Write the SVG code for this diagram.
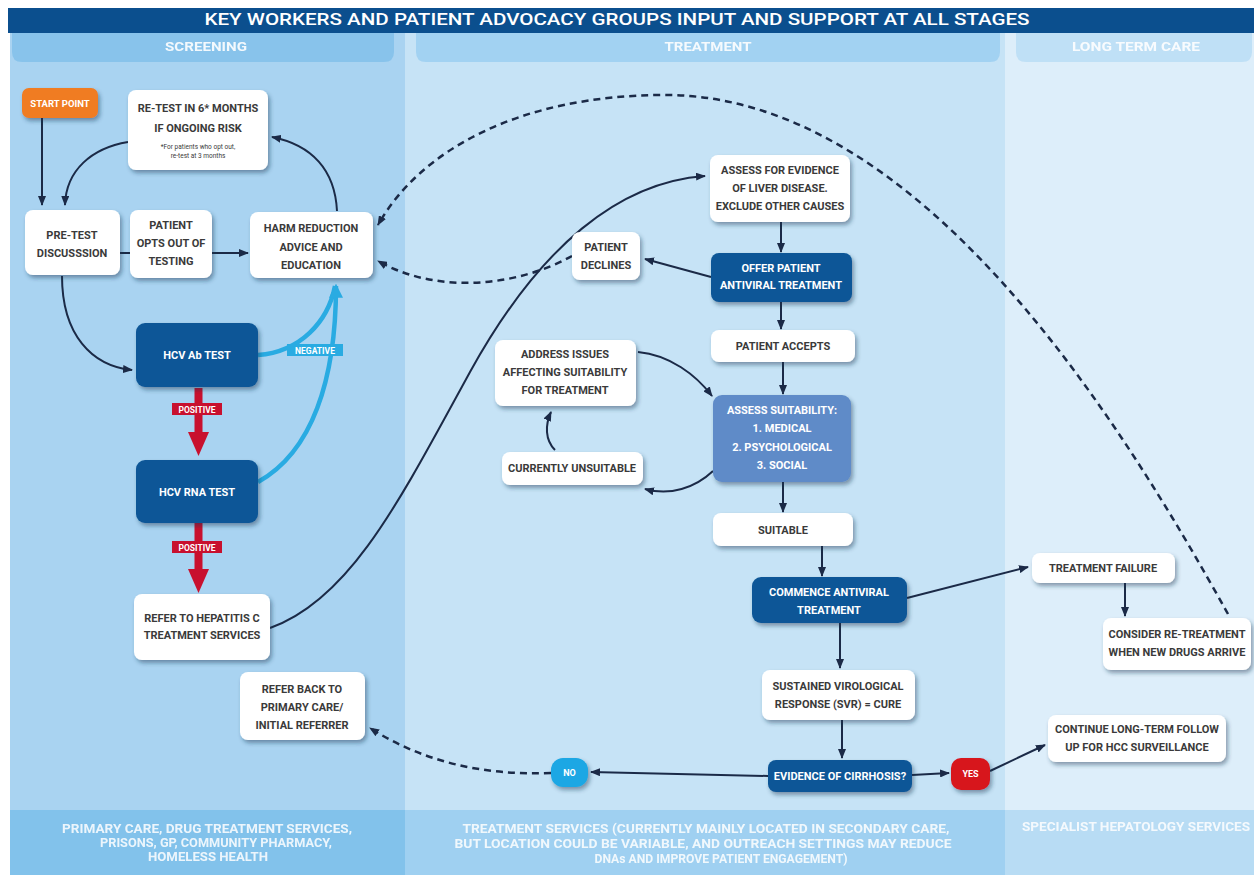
<svg xmlns="http://www.w3.org/2000/svg" width="1254" height="875" viewBox="0 0 1254 875">
<defs>
<style>
.t{font-family:Roboto,"DejaVu Sans",sans-serif;font-weight:700;font-size:11px;text-anchor:middle;fill:#3a3a3a}
.w{fill:#ffffff}
.s{font-size:6.5px;font-weight:400}
.hd{font-size:13px;fill:#ffffff;opacity:0.9}
.bt{font-size:12.5px;fill:#ffffff;opacity:0.85}
.box{fill:#ffffff;filter:url(#sh)}
.dk{fill:#0b5697;filter:url(#sh)}
.ln{fill:none;stroke:#1b2a47;stroke-width:2}
.ds{fill:none;stroke:#1b2a47;stroke-width:2.5;stroke-dasharray:7,5}
.cy{fill:none;stroke:#29abe2;stroke-width:4.5}
</style>
<filter id="sh" x="-20%" y="-20%" width="150%" height="170%">
<feDropShadow dx="2" dy="3" stdDeviation="2" flood-color="#14304d" flood-opacity="0.45"/>
</filter>
<marker id="ar" viewBox="0 0 10 8" refX="9" refY="4" markerWidth="10" markerHeight="8" markerUnits="userSpaceOnUse" orient="auto">
<path d="M0,0 L10,4 L0,8 z" fill="#1b2a47"/>
</marker>
<marker id="arc" viewBox="0 0 12 12" refX="10" refY="6" markerWidth="14" markerHeight="14" markerUnits="userSpaceOnUse" orient="auto">
<path d="M0,0 L12,6 L0,12 z" fill="#29abe2"/>
</marker>
</defs>

<!-- background -->
<rect x="0" y="0" width="1254" height="875" fill="#ffffff"/>
<rect x="10" y="8" width="395" height="867" fill="#a9d3f1"/>
<rect x="405" y="8" width="600" height="867" fill="#c6e3f6"/>
<rect x="1005" y="8" width="249" height="867" fill="#ddeefa"/>
<rect x="8" y="8" width="1246" height="25" fill="#0b4f8e"/>
<path d="M12,33 H394 V52 Q394,62 384,62 H22 Q12,62 12,52 Z" fill="#88c3eb"/>
<path d="M416,33 H1000 V52 Q1000,62 990,62 H426 Q416,62 416,52 Z" fill="#a2d2f2"/>
<path d="M1016,33 H1252 V52 Q1252,62 1242,62 H1026 Q1016,62 1016,52 Z" fill="#bfe0f6"/>
<rect x="10" y="810" width="395" height="65" fill="#82c2eb"/>
<rect x="405" y="810" width="600" height="65" fill="#9fd0f1"/>
<rect x="1005" y="810" width="249" height="65" fill="#b8dcf4"/>

<text class="t w" x="617" y="25" style="font-size:17px;font-weight:500" textLength="825" lengthAdjust="spacingAndGlyphs">KEY WORKERS AND PATIENT ADVOCACY GROUPS INPUT AND SUPPORT AT ALL STAGES</text>
<text class="t hd" x="206" y="51" textLength="82" lengthAdjust="spacingAndGlyphs">SCREENING</text>
<text class="t hd" x="708" y="51" textLength="87" lengthAdjust="spacingAndGlyphs">TREATMENT</text>
<text class="t hd" x="1136" y="51" textLength="128" lengthAdjust="spacingAndGlyphs">LONG TERM CARE</text>

<text class="t bt" x="207" y="833" textLength="290" lengthAdjust="spacingAndGlyphs">PRIMARY CARE, DRUG TREATMENT SERVICES,</text>
<text class="t bt" x="216" y="847" textLength="232" lengthAdjust="spacingAndGlyphs">PRISONS, GP, COMMUNITY PHARMACY,</text>
<text class="t bt" x="208" y="861" textLength="120" lengthAdjust="spacingAndGlyphs">HOMELESS HEALTH</text>
<text class="t bt" x="706" y="833" textLength="487" lengthAdjust="spacingAndGlyphs">TREATMENT SERVICES (CURRENTLY MAINLY LOCATED IN SECONDARY CARE,</text>
<text class="t bt" x="703" y="848" textLength="497" lengthAdjust="spacingAndGlyphs">BUT LOCATION COULD BE VARIABLE, AND OUTREACH SETTINGS MAY REDUCE</text>
<text class="t bt" x="721" y="863" textLength="253" lengthAdjust="spacingAndGlyphs">DNAs AND IMPROVE PATIENT ENGAGEMENT)</text>
<text class="t bt" x="1136" y="831" textLength="228" lengthAdjust="spacingAndGlyphs">SPECIALIST HEPATOLOGY SERVICES</text>

<!-- connectors -->
<g id="connectors">
<line class="ln" x1="42" y1="118" x2="42" y2="205" marker-end="url(#ar)"/>
<path class="ln" d="M128,142 C92,148 66,170 65,205" marker-end="url(#ar)"/>
<path class="ln" d="M337,211 C335,170 312,145 272,137" marker-end="url(#ar)"/>
<line class="ln" x1="120" y1="253" x2="130" y2="253"/>
<line class="ln" x1="212" y1="253" x2="248" y2="253" marker-end="url(#ar)"/>
<path class="ln" d="M62,276 C62,335 92,366 132,370" marker-end="url(#ar)"/>
<path class="cy" d="M258,355 C300,352 328,322 335,286"/>
<path class="cy" d="M258,482 C312,452 336,380 336,286" marker-end="url(#arc)"/>
<rect x="194.5" y="388" width="8" height="46" fill="#c8102e"/>
<path d="M188,432 H209 L198.5,456 Z" fill="#c8102e"/>
<rect x="194.5" y="523" width="8" height="48" fill="#c8102e"/>
<path d="M188,569 H209 L198.5,593 Z" fill="#c8102e"/>
<path class="ln" d="M270,628 C350,600 400,500 470,372 C540,245 620,182 705,176" marker-end="url(#ar)"/>
<path class="ds" d="M1228,614 C1120,420 920,95 665,95 C520,95 420,150 378,225" marker-end="url(#ar)"/>
<path class="ds" d="M572,256 C520,285 440,296 378,261" marker-end="url(#ar)"/>
<line class="ln" x1="711" y1="277" x2="645" y2="259" marker-end="url(#ar)"/>
<line class="ln" x1="781" y1="222" x2="781" y2="252" marker-end="url(#ar)"/>
<line class="ln" x1="781" y1="302" x2="781" y2="329" marker-end="url(#ar)"/>
<line class="ln" x1="783" y1="362" x2="783" y2="394" marker-end="url(#ar)"/>
<path class="ln" d="M638,352 C670,355 696,375 712,396" marker-end="url(#ar)"/>
<path class="ln" d="M713,471 C695,488 670,496 645,489" marker-end="url(#ar)"/>
<path class="ln" d="M555,450 C545,440 545,425 551,412" marker-end="url(#ar)"/>
<line class="ln" x1="783" y1="482" x2="783" y2="512" marker-end="url(#ar)"/>
<line class="ln" x1="822" y1="546" x2="822" y2="576" marker-end="url(#ar)"/>
<line class="ln" x1="907" y1="598" x2="1028" y2="567" marker-end="url(#ar)"/>
<line class="ln" x1="1125" y1="583" x2="1125" y2="616" marker-end="url(#ar)"/>
<line class="ln" x1="840" y1="623" x2="840" y2="668" marker-end="url(#ar)"/>
<line class="ln" x1="842" y1="720" x2="842" y2="758" marker-end="url(#ar)"/>
<line class="ln" x1="768" y1="776" x2="591" y2="772" marker-end="url(#ar)"/>
<path class="ds" d="M551,773 C480,776 420,760 370,728" marker-end="url(#ar)"/>
<line class="ln" x1="912" y1="775" x2="949" y2="773" marker-end="url(#ar)"/>
<line class="ln" x1="990" y1="771" x2="1045" y2="745" marker-end="url(#ar)"/>
</g>

<!-- nodes -->
<g id="start"><rect x="22" y="88" width="76" height="30" rx="7" fill="#f07c20" filter="url(#sh)"/><text class="t w" x="60" y="107" style="font-size:9.5px">START POINT</text></g>
<g id="retest"><rect class="box" x="128" y="90" width="140" height="80" rx="8"/>
<text class="t" x="198" y="112">RE-TEST IN 6* MONTHS</text>
<text class="t" x="198" y="132">IF ONGOING RISK</text>
<text class="t s" x="198" y="149">*For patients who opt out,</text>
<text class="t s" x="198" y="158">re-test at 3 months</text></g>
<g id="pretest"><rect class="box" x="25" y="210" width="95" height="65" rx="8"/>
<text class="t" x="72" y="239">PRE-TEST</text><text class="t" x="72" y="257">DISCUSSSION</text></g>
<g id="optsout"><rect class="box" x="130" y="210" width="82" height="68" rx="8"/>
<text class="t" x="171" y="229">PATIENT</text><text class="t" x="171" y="247">OPTS OUT OF</text><text class="t" x="171" y="265">TESTING</text></g>
<g id="harm"><rect class="box" x="250" y="212" width="123" height="66" rx="8"/>
<text class="t" x="311" y="232">HARM REDUCTION</text><text class="t" x="311" y="251">ADVICE AND</text><text class="t" x="311" y="269">EDUCATION</text></g>
<g id="abtest"><rect class="dk" x="136" y="323" width="122" height="64" rx="9"/><text class="t w" x="197" y="359">HCV Ab TEST</text></g>
<g id="rnatest"><rect class="dk" x="136" y="460" width="122" height="63" rx="9"/><text class="t w" x="197" y="496">HCV RNA TEST</text></g>
<g id="pos1"><rect x="172" y="403" width="50" height="12" fill="#c8102e"/><text class="t w" x="197" y="412.5" style="font-size:8.5px">POSITIVE</text></g>
<g id="pos2"><rect x="172" y="541" width="50" height="12" fill="#c8102e"/><text class="t w" x="197" y="550.5" style="font-size:8.5px">POSITIVE</text></g>
<g id="neg"><rect x="287" y="344" width="56" height="12" fill="#29abe2"/><text class="t w" x="315" y="353.5" style="font-size:8.5px">NEGATIVE</text></g>
<g id="refer"><rect class="box" x="134" y="594" width="136" height="66" rx="8"/>
<text class="t" x="202" y="622">REFER TO HEPATITIS C</text><text class="t" x="202" y="639">TREATMENT SERVICES</text></g>
<g id="referback"><rect class="box" x="240" y="672" width="125" height="68" rx="8"/>
<text class="t" x="302" y="693">REFER BACK TO</text><text class="t" x="302" y="711">PRIMARY CARE/</text><text class="t" x="302" y="729">INITIAL REFERRER</text></g>

<g id="assessliver"><rect class="box" x="710" y="155" width="140" height="67" rx="8"/>
<text class="t" x="780" y="174">ASSESS FOR EVIDENCE</text><text class="t" x="780" y="192">OF LIVER DISEASE.</text><text class="t" x="780" y="210">EXCLUDE OTHER CAUSES</text></g>
<g id="declines"><rect class="box" x="572" y="232" width="68" height="48" rx="8"/>
<text class="t" x="606" y="251">PATIENT</text><text class="t" x="606" y="269">DECLINES</text></g>
<g id="offer"><rect class="dk" x="711" y="253" width="141" height="49" rx="8"/>
<text class="t w" x="781" y="272">OFFER PATIENT</text><text class="t w" x="781" y="289">ANTIVIRAL TREATMENT</text></g>
<g id="accepts"><rect class="box" x="711" y="330" width="144" height="32" rx="8"/><text class="t" x="783" y="350">PATIENT ACCEPTS</text></g>
<g id="address"><rect class="box" x="495" y="340" width="141" height="66" rx="8"/>
<text class="t" x="565" y="358">ADDRESS ISSUES</text><text class="t" x="565" y="376">AFFECTING SUITABILITY</text><text class="t" x="565" y="394">FOR TREATMENT</text></g>
<g id="unsuitable"><rect class="box" x="502" y="452" width="141" height="33" rx="8"/><text class="t" x="572" y="472">CURRENTLY UNSUITABLE</text></g>
<g id="assesssuit"><rect x="713" y="395" width="138" height="87" rx="9" fill="#5f8bc8" filter="url(#sh)"/>
<text class="t w" x="782" y="414">ASSESS SUITABILITY:</text><text class="t w" x="782" y="432">1. MEDICAL</text><text class="t w" x="782" y="451">2. PSYCHOLOGICAL</text><text class="t w" x="782" y="469">3. SOCIAL</text></g>
<g id="suitable"><rect class="box" x="713" y="513" width="140" height="33" rx="8"/><text class="t" x="783" y="534">SUITABLE</text></g>
<g id="commence"><rect class="dk" x="752" y="577" width="155" height="46" rx="9"/>
<text class="t w" x="829" y="596">COMMENCE ANTIVIRAL</text><text class="t w" x="829" y="614">TREATMENT</text></g>
<g id="svr"><rect class="box" x="762" y="670" width="153" height="50" rx="8"/>
<text class="t" x="838" y="690">SUSTAINED VIROLOGICAL</text><text class="t" x="838" y="708">RESPONSE (SVR) = CURE</text></g>
<g id="cirrhosis"><rect class="dk" x="768" y="760" width="144" height="32" rx="8"/><text class="t w" x="840" y="780">EVIDENCE OF CIRRHOSIS?</text></g>
<g id="no"><rect x="551" y="758" width="37" height="29" rx="12" fill="#1ea7e4" filter="url(#sh)"/><text class="t w" x="569.5" y="776" style="font-size:9px">NO</text></g>
<g id="yes"><rect x="951" y="758" width="39" height="32" rx="10" fill="#d7141f" filter="url(#sh)"/><text class="t w" x="970.5" y="777" style="font-size:9px">YES</text></g>
<g id="failure"><rect class="box" x="1032" y="553" width="143" height="30" rx="8"/><text class="t" x="1103" y="572">TREATMENT FAILURE</text></g>
<g id="consider"><rect class="box" x="1103" y="618" width="148" height="52" rx="8"/>
<text class="t" x="1177" y="638">CONSIDER RE-TREATMENT</text><text class="t" x="1177" y="656">WHEN NEW DRUGS ARRIVE</text></g>
<g id="continue"><rect class="box" x="1048" y="715" width="178" height="47" rx="8"/>
<text class="t" x="1137" y="733">CONTINUE LONG-TERM FOLLOW</text><text class="t" x="1137" y="751">UP FOR HCC SURVEILLANCE</text></g>
</svg>
